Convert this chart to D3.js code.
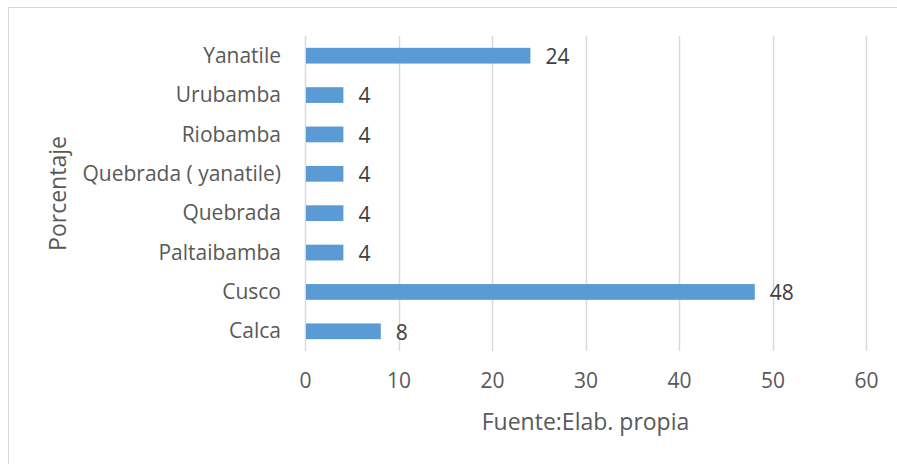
<!DOCTYPE html>
<html>
<head>
<meta charset="utf-8">
<script src="https://cdn.jsdelivr.net/npm/d3@7"></script>
<style>
    body { margin: 0; background: #fff; }
    svg text { font-family: "Open Sans", sans-serif; }
</style>
</head>
<body>
<div id="chart"></div>
<script>
// Data (top to bottom)
const categories = ["Yanatile", "Urubamba", "Riobamba", "Quebrada ( yanatile)", "Quebrada", "Paltaibamba", "Cusco", "Calca"];
const values = [24, 4, 4, 4, 4, 4, 48, 8];
const xTicks = [0, 10, 20, 30, 40, 50, 60];
const xTitle = "Fuente:Elab. propia";
const yTitle = "Porcentaje";

const width = 897, height = 464;
const margin = { top: 36, right: 31, bottom: 113, left: 305 };
const innerW = width - margin.left - margin.right;
const innerH = height - margin.top - margin.bottom;

const svg = d3.select("#chart").append("svg")
    .attr("width", width)
    .attr("height", height);

// Outer chart frame (only left and top edges show)
svg.append("rect")
    .attr("x", 8.5).attr("y", 7.5)
    .attr("width", 920).attr("height", 480)
    .attr("fill", "none")
    .attr("stroke", "#d9d9d9")
    .attr("stroke-width", 1);

const g = svg.append("g")
    .attr("transform", "translate(" + margin.left + "," + margin.top + ")");

const x = d3.scaleLinear().domain([0, 60]).range([0, innerW]);
const y = d3.scaleBand().domain(categories).range([0, innerH]).paddingInner(0.6).paddingOuter(0.3);

// Vertical gridlines
g.selectAll(".grid")
    .data(xTicks)
    .enter()
    .append("line")
    .attr("x1", d => Math.round(x(d)) + 0.5)
    .attr("x2", d => Math.round(x(d)) + 0.5)
    .attr("y1", 0)
    .attr("y2", innerH)
    .attr("stroke", "#d9d9d9")
    .attr("stroke-width", 1.5);

// Bars
g.selectAll(".bar")
    .data(values)
    .enter()
    .append("rect")
    .attr("x", x(0) + 1)
    .attr("y", (d, i) => y(categories[i]))
    .attr("width", d => x(d) - x(0))
    .attr("height", y.bandwidth())
    .attr("fill", "#5b9bd5");

// Data labels
g.selectAll(".label")
    .data(values)
    .enter()
    .append("text")
    .attr("x", d => x(d) + 16)
    .attr("y", (d, i) => y(categories[i]) + y.bandwidth() / 2)
    .attr("dy", "0.4em")
    .attr("font-size", 21)
    .attr("fill", "#404040")
    .text(d => d);

// Category axis
const yAxis = g.append("g").call(d3.axisLeft(y).tickSize(0).tickPadding(24));
yAxis.select(".domain").remove();
yAxis.selectAll("text")
    .attr("font-size", 21)
    .attr("fill", "#595959")
    .attr("font-family", "Open Sans, sans-serif")
    .attr("dy", "0.34em");

// Value axis
const xAxis = g.append("g")
    .attr("transform", "translate(0," + innerH + ")")
    .call(d3.axisBottom(x).tickValues(xTicks).tickSize(0).tickPadding(22));
xAxis.select(".domain").remove();
xAxis.selectAll("text")
    .attr("font-size", 21)
    .attr("fill", "#595959")
    .attr("font-family", "Open Sans, sans-serif");

// Axis titles
svg.append("text")
    .attr("x", margin.left + innerW / 2)
    .attr("y", 430)
    .attr("text-anchor", "middle")
    .attr("font-size", 23)
    .attr("fill", "#595959")
    .text(xTitle);

svg.append("text")
    .attr("transform", "translate(66," + (margin.top + innerH / 2) + ") rotate(-90)")
    .attr("text-anchor", "middle")
    .attr("font-size", 23)
    .attr("fill", "#595959")
    .text(yTitle);
</script>
</body>
</html>
